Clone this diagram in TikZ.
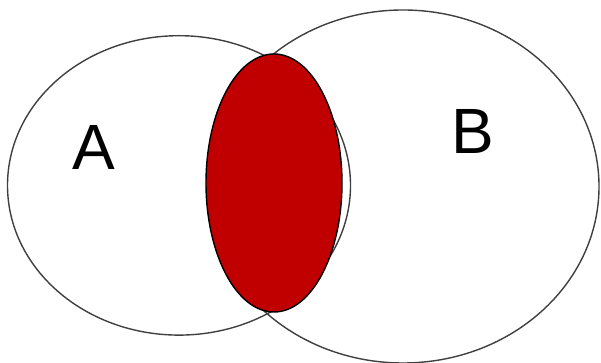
\documentclass[tikz,border=0pt]{standalone}
\usepackage{fontspec}
\setmainfont{Liberation Sans}
\usetikzlibrary{shapes.geometric}
\tikzset{
  setring/.style={ellipse, draw=black!75, line width=1.4pt, inner sep=0pt, outer sep=0pt},
  overlap/.style={ellipse, draw=black, fill={rgb,255:red,192;green,0;blue,0}, line width=1.4pt, inner sep=0pt, outer sep=0pt},
  setlabel/.style={inner sep=0pt, font=\fontsize{64}{64}\selectfont}
}
\begin{document}
\begin{tikzpicture}[x=1pt,y=1pt]
\useasboundingbox[fill=white] (0,0) rectangle (601,363);
\node[setring, minimum width=343pt, minimum height=299.4pt] (setA) at (179,177.6) {};
\node[setring, minimum width=392pt, minimum height=353pt] (setB) at (403,176.5) {};
\node[overlap, minimum width=136pt, minimum height=258pt] (inter) at (274,180) {};
\node[setlabel] (labA) at (94,215.5) {A};
\node[setlabel] (labB) at (473,231.5) {B};
\end{tikzpicture}
\end{document}
